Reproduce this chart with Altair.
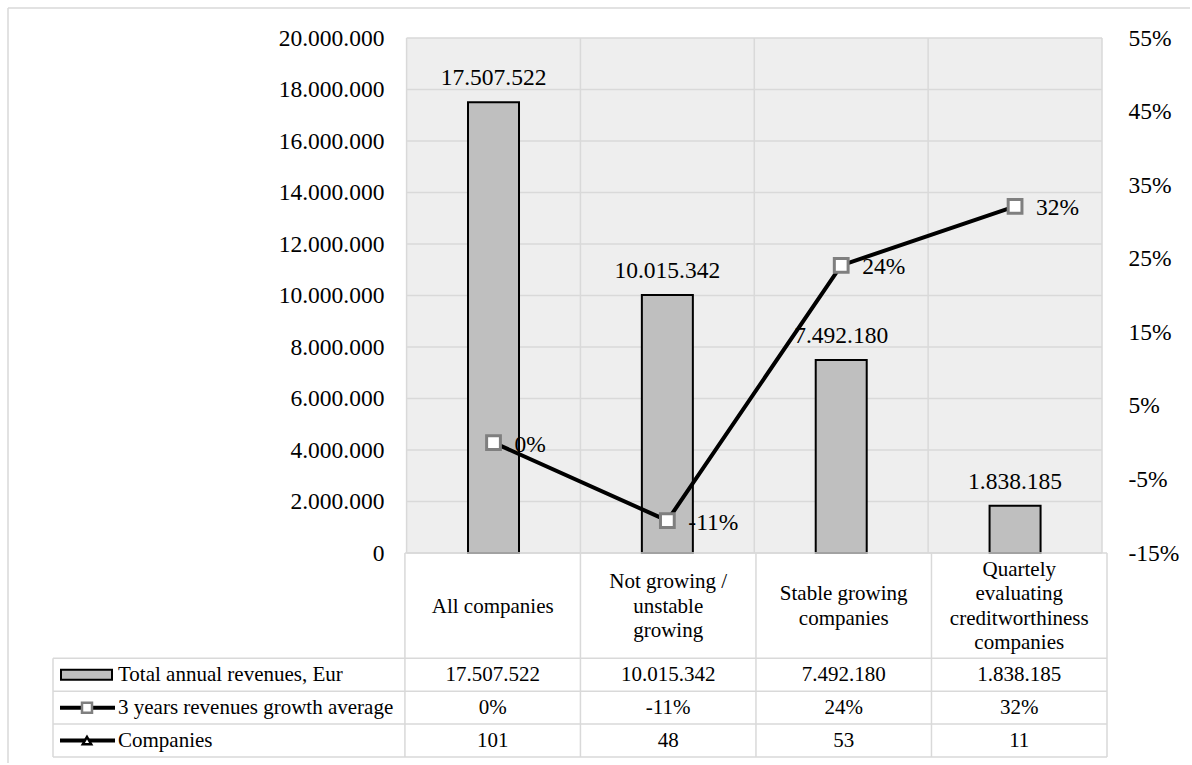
import altair as alt
import pandas as pd

# ---------------- data ----------------
categories = [
    "All companies",
    "Not growing /\nunstable\ngrowing",
    "Stable growing\ncompanies",
    "Quartely\nevaluating\ncreditworthiness\ncompanies",
]
revenues = [17507522, 10015342, 7492180, 1838185]
growth = [0.0, -0.106, 0.241, 0.321]
companies = [101, 48, 53, 11]
row_labels = ["Total annual revenues, Eur", "3 years revenues growth average", "Companies"]
rev_ticks = [0, 2000000, 4000000, 6000000, 8000000, 10000000,
             12000000, 14000000, 16000000, 18000000, 20000000]
growth_ticks = [-0.15, -0.05, 0.05, 0.15, 0.25, 0.35, 0.45, 0.55]

# ---------------- layout / style ----------------
FONT = "Liberation Serif"
GRID = "#d9d9d9"
W = 1054          # plot width (row-label column + 4 category columns)
H_TOP = 515       # chart area height
H_TAB = 204       # data table height
n = len(categories)
label_cols = 2.005             # width of the row-label column, in category widths
unit_px = W / (n + label_cols)
XDOM = [-label_cols, n]
HEADER = 3.2                   # header row height, in table-row units
TDOM = [0, HEADER + len(row_labels)]
row_px = H_TAB / TDOM[1]
LINE_H = 24.5
AX = dict(domain=False, ticks=False, grid=False, tickSize=0, labelFont=FONT,
          labelFontSize=23.5, labelColor="black", labelPadding=21)

left_axis = alt.Axis(orient="left", values=rev_ticks, format=",d",
                     offset=-label_cols * unit_px, **AX)
right_axis = alt.Axis(orient="right", values=growth_ticks, format=".0%", **AX)


def X(field):
    return alt.X(field, type="quantitative",
                 scale=alt.Scale(domain=XDOM, nice=False, zero=False), axis=None)


def YL(field):
    return alt.Y(field, type="quantitative",
                 scale=alt.Scale(domain=[rev_ticks[0], rev_ticks[-1]], nice=False),
                 axis=left_axis, title=None)


def YR(field):
    return alt.Y(field, type="quantitative",
                 scale=alt.Scale(domain=[growth_ticks[0], growth_ticks[-1]], nice=False, zero=False),
                 axis=right_axis, title=None)


def YT(field):
    return alt.Y(field, type="quantitative",
                 scale=alt.Scale(domain=TDOM, reverse=True, nice=False, zero=False),
                 axis=None, title=None)


df = pd.DataFrame({
    "cat": categories,
    "pos": [i + 0.5 for i in range(n)],
    "rev": revenues,
    "growth": growth,
    "companies": companies,
})

# ---------------- top chart ----------------
one = pd.DataFrame({"x0": [0], "x1": [n], "y0": [rev_ticks[0]], "y1": [rev_ticks[-1]]})

border_v = alt.Chart(one).mark_rule(stroke=GRID, strokeWidth=1.5).encode(
    x=alt.value(-45), y=alt.value(-30), y2=alt.value(725))
border_h = alt.Chart(one).mark_rule(stroke=GRID, strokeWidth=1.5).encode(
    x=alt.value(-45), x2=alt.value(1137), y=alt.value(-30))

bg = alt.Chart(one).mark_rect(fill="#eeeeee").encode(
    x=X("x0"), x2="x1", y=YL("y0"), y2="y1")

hgrid_df = pd.DataFrame({"t": rev_ticks, "x0": 0, "x1": n})
hgrid = alt.Chart(hgrid_df).mark_rule(stroke=GRID, strokeWidth=1.5).encode(
    x=X("x0"), x2="x1", y=YL("t"))

vgrid_df = pd.DataFrame({"x": list(range(n + 1)), "y0": rev_ticks[0], "y1": rev_ticks[-1]})
vgrid = alt.Chart(vgrid_df).mark_rule(stroke=GRID, strokeWidth=1.5).encode(
    x=X("x"), y=YL("y0"), y2="y1")

bars = alt.Chart(df).mark_bar(size=51, orient="vertical", fill="#bfbfbf",
                              stroke="black", strokeWidth=2).encode(
    x=X("pos"), y=YL("rev"))

bar_labels = alt.Chart(df).mark_text(font=FONT, fontSize=23.5, baseline="middle",
                                     dy=-24, color="black").encode(
    x=X("pos"), y=YL("rev"), text=alt.Text("rev:Q", format=",d"))

left_layer = alt.layer(bg, hgrid, vgrid, bars, bar_labels, border_v, border_h)

line = alt.Chart(df).mark_line(color="black", strokeWidth=4).encode(
    x=X("pos"), y=YR("growth"))
points = alt.Chart(df).mark_point(shape="square", filled=True, fill="white",
                                  stroke="#7f7f7f", strokeWidth=3, size=190,
                                  opacity=1).encode(
    x=X("pos"), y=YR("growth"))
line_labels = alt.Chart(df).mark_text(font=FONT, fontSize=23.5, align="left",
                                      baseline="middle", dx=21, dy=2,
                                      color="black").encode(
    x=X("pos"), y=YR("growth"), text=alt.Text("growth:Q", format=".0%"))

right_layer = alt.layer(line, points, line_labels)

top = alt.layer(left_layer, right_layer).resolve_scale(y="independent").properties(
    width=W, height=H_TOP)

# ---------------- data table ----------------
bounds = [0, HEADER] + [HEADER + i + 1 for i in range(len(row_labels))]
hl_df = pd.DataFrame({
    "y": bounds,
    "x0": [0] + [-label_cols] * (len(bounds) - 1),
    "x1": n,
})
hlines = alt.Chart(hl_df).mark_rule(stroke=GRID, strokeWidth=1.5).encode(
    x=X("x0"), x2="x1", y=YT("y"))

vl_df = pd.DataFrame({
    "x": [-label_cols] + list(range(n + 1)),
    "y0": [HEADER] + [0] * (n + 1),
    "y1": TDOM[1],
})
vlines = alt.Chart(vl_df).mark_rule(stroke=GRID, strokeWidth=1.5).encode(
    x=X("x"), y=YT("y0"), y2="y1")

hdr_df = pd.DataFrame({"cat": categories, "pos": [i + 0.5 for i in range(n)]})
header = alt.Chart(hdr_df).transform_calculate(
    lines="split(datum.cat, '\\n')"
).transform_calculate(
    yc=f"{HEADER / 2 + 0.03} - (length(datum.lines) - 1) / 2 * {LINE_H / row_px}"
).mark_text(font=FONT, fontSize=21, lineHeight=LINE_H, baseline="middle",
            color="black").encode(
    x=X("pos"), y=YT("yc"), text="lines:N")


def fmt_int(v):
    return f"{v:,}".replace(",", ".")


cells = []
for i in range(n):
    cells.append({"pos": i + 0.5, "y": HEADER + 0.5, "label": fmt_int(revenues[i])})
    cells.append({"pos": i + 0.5, "y": HEADER + 1.5, "label": f"{growth[i]:.0%}"})
    cells.append({"pos": i + 0.5, "y": HEADER + 2.5, "label": str(companies[i])})
cells_df = pd.DataFrame(cells)
cell_text = alt.Chart(cells_df).mark_text(font=FONT, fontSize=21, baseline="middle",
                                          color="black").encode(
    x=X("pos"), y=YT("y"), text="label:N")

rows_df = pd.DataFrame({"label": row_labels,
                        "y": [HEADER + r + 0.5 for r in range(len(row_labels))]})
row_text = alt.Chart(rows_df).mark_text(font=FONT, fontSize=21, align="left",
                                        baseline="middle", color="black").encode(
    x=alt.value(65), y=YT("y"), text="label:N")

bar_key = alt.Chart(rows_df.iloc[[0]]).mark_point(
    shape="M-1,-0.196L1,-0.196L1,0.196L-1,0.196Z", filled=True, fill="#bfbfbf",
    stroke="black", strokeWidth=2, size=2601, opacity=1).encode(
    x=alt.value(33.5), y=YT("y"))
line_keys = alt.Chart(rows_df.iloc[[1, 2]]).mark_rule(color="black", strokeWidth=4).encode(
    x=alt.value(7), x2=alt.value(62), y=YT("y"))
square_key = alt.Chart(rows_df.iloc[[1]]).mark_point(
    shape="square", filled=True, fill="white", stroke="#7f7f7f", strokeWidth=2.5,
    size=100, opacity=1).encode(x=alt.value(34), y=YT("y"))
tri_key = alt.Chart(rows_df.iloc[[2]]).mark_point(
    shape="triangle-up", filled=True, fill="white", stroke="black", strokeWidth=2.5,
    size=70, opacity=1).encode(x=alt.value(34), y=YT("y"))

table = alt.layer(hlines, vlines, header, cell_text, row_text,
                  bar_key, line_keys, square_key, tri_key).properties(
    width=W, height=H_TAB)

chart = alt.vconcat(top, table, spacing=0, bounds="flush").properties(
    padding={"left": 7, "top": 7, "right": 0, "bottom": 0}
).configure(
    locale={"number": {"decimal": ",", "thousands": ".", "grouping": [3],
                       "currency": ["", " €"], "minus": "-"}},
    view={"stroke": "transparent", "strokeWidth": 0},
)

chart.save("out.html", embed_options={"renderer": "svg", "actions": False})
